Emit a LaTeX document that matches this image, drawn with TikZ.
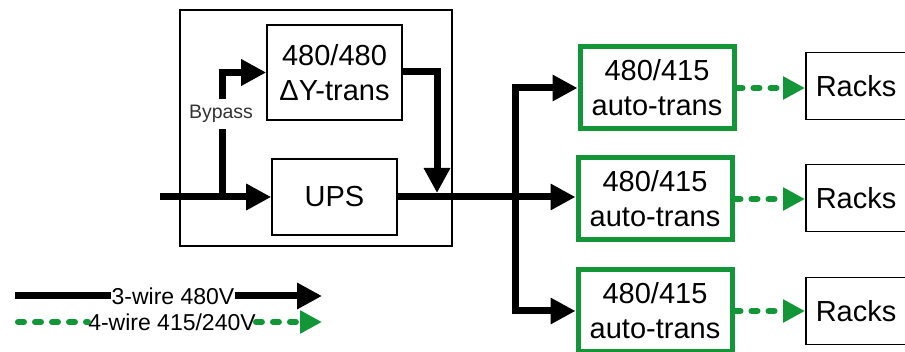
\documentclass[tikz,border=0pt]{standalone}
\usepackage{fontspec}
\setmainfont{Liberation Sans}
\usetikzlibrary{arrows.meta}
\definecolor{feedgreen}{RGB}{18,150,56}
\tikzset{
  wire/.style={line width=7pt, black},
  wirehead/.style={-{Triangle[length=25pt,width=25pt]}},
  greenwire/.style={line width=6pt, feedgreen, dash pattern=on 6pt off 11pt, line cap=round},
  greenhead/.style={-{Triangle[length=22pt,width=22pt]}},
  blockbox/.style={draw, line width=1.6pt, align=center, inner sep=0pt,
    font=\fontsize{29}{35}\selectfont},
  autobox/.style={draw=feedgreen, line width=5pt, align=center, inner sep=0pt,
    minimum width=154pt, minimum height=82pt, font=\fontsize{29}{35}\selectfont},
  rackbox/.style={draw, line width=1.6pt, anchor=west, minimum width=130pt,
    minimum height=67pt, text width=110pt, inner xsep=10pt, align=left,
    font=\fontsize{29}{35}\selectfont},
  legendtext/.style={inner sep=0pt, font=\fontsize{23}{26}\selectfont},
}
\begin{document}
\begin{tikzpicture}[x=1pt, y=-1pt]
\useasboundingbox (0,0) rectangle (905,352);
\clip (0,0) rectangle (905,352);

% UPS enclosure with bypass transformer
\node[draw, line width=1.5pt, minimum width=272pt, minimum height=236pt, inner sep=0pt]
  (encl) at (316,128) {};
\node[blockbox, minimum width=135pt, minimum height=95pt] (dy) at (334.5,72.5)
  {480/480\\ΔY-trans};
\node[blockbox, minimum width=125pt, minimum height=76pt] (ups) at (334.5,197) {UPS};

% distribution transformers and rack loads
\node[autobox] (auto1) at (657,88)  {480/415\\auto-trans};
\node[autobox] (auto2) at (655,199) {480/415\\auto-trans};
\node[autobox] (auto3) at (655,311) {480/415\\auto-trans};
\node[rackbox] (rack1) at (805,86)  {Racks};
\node[rackbox] (rack2) at (805,198) {Racks};
\node[rackbox] (rack3) at (805,311) {Racks};

% input feed and bypass path
\coordinate (in) at (160,197);
\coordinate (bp) at (222,197);
\node[inner ysep=6pt, inner xsep=0pt, text=black!80, font=\fontsize{19.5}{22}\selectfont]
  (bypass) at (221,114) {Bypass};
\draw[wire, wirehead] (in) -- (ups.west);
\draw[wire] (bp) -- (bp |- bypass.south);
\draw[wire, wirehead] (bp |- bypass.north) |- (dy.west);

% transformer output joins the UPS output
\coordinate (dyout) at (437,72);
\coordinate (dyin) at (437,193);
\draw[wire, wirehead] (dy.east |- dyout) -- (dyout) -- (dyin);

% output bus
\coordinate (bus) at (515,197);
\draw[wire, wirehead] (ups.east) -- (bus) -- (auto2.west |- bus);
\draw[wire, wirehead] (bus) |- (auto1.west);
\draw[wire, wirehead] (bus) |- (auto3.west);

% 4-wire feeds to racks
\draw[greenwire, greenhead] (auto1.east) -- (rack1.west |- auto1.east);
\draw[greenwire, greenhead] (auto2.east) -- (rack2.west |- auto2.east);
\draw[greenwire, greenhead] (auto3.east) -- (rack3.west |- auto3.east);

% legend
\coordinate (l1a) at (15,296);
\coordinate (l1b) at (322,296);
\node[legendtext] (leg1) at (173,296) {3-wire 480V};
\draw[wire] (l1a) -- (leg1.west);
\draw[wire, wirehead] (leg1.east) -- (l1b);
\coordinate (l2a) at (18,322);
\coordinate (l2b) at (322,322);
\node[legendtext] (leg2) at (172,322) {4-wire 415/240V};
\draw[greenwire] (l2a) -- (leg2.west);
\draw[greenwire, greenhead] (leg2.east) -- (l2b);
\end{tikzpicture}
\end{document}
